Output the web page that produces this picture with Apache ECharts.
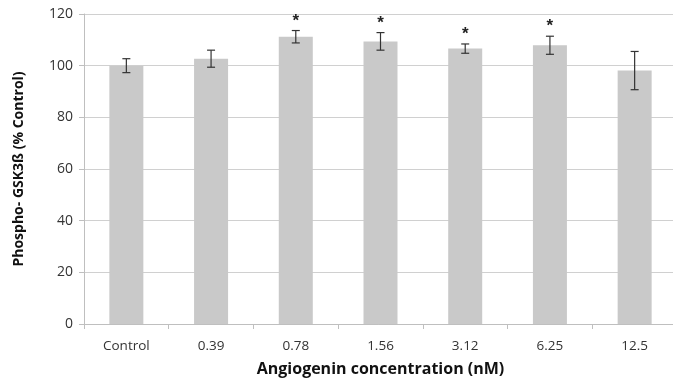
<!DOCTYPE html>
<html><head><meta charset="utf-8">
<script src="https://cdn.jsdelivr.net/npm/echarts@6/dist/echarts.min.js"></script>
<style>html,body{margin:0;padding:0;background:#fff}#c{width:673px;height:381px}</style>
</head><body><div id="c"></div>
<script>
const categories = ['Control','0.39','0.78','1.56','3.12','6.25','12.5'];
const values = [100, 102.7, 111.2, 109.4, 106.6, 107.9, 98.1];
const errors = [2.7, 3.3, 2.4, 3.4, 1.8, 3.5, 7.4];
const significant = [false, false, true, true, true, true, false];
const yTicks = [0, 20, 40, 60, 80, 100, 120];

const font = '"Open Sans", "Liberation Sans", sans-serif';
const chart = echarts.init(document.getElementById('c'));
const errData = values.map((v, i) => [i, v - errors[i], v + errors[i], significant[i] ? 1 : 0]);

chart.setOption({
  animation: false,
  grid: { left: 84, right: -4, top: 14, bottom: 57, containLabel: false, outerBoundsMode: 'none' },
  xAxis: {
    type: 'category', data: categories,
    name: 'Angiogenin concentration (nM)', nameLocation: 'middle', nameGap: 37,
    nameTextStyle: { fontFamily: font, fontSize: 16, fontWeight: 'bold', color: '#111' },
    axisLine: { lineStyle: { color: '#bfbfbf' } },
    axisTick: { show: true, length: 5, lineStyle: { color: '#bfbfbf' } },
    axisLabel: { fontFamily: font, fontSize: 13.5, color: '#333', margin: 15 }
  },
  yAxis: {
    type: 'value', min: yTicks[0], max: yTicks[yTicks.length - 1], interval: 20,
    name: 'Phospho- GSK3ß (% Control)', nameLocation: 'middle', nameGap: 58,
    nameTextStyle: { fontFamily: font, fontSize: 14, fontWeight: 'bold', color: '#111' },
    axisLine: { show: true, lineStyle: { color: '#bfbfbf' } },
    axisTick: { show: true, length: 5, lineStyle: { color: '#bfbfbf' } },
    axisLabel: { fontFamily: font, fontSize: 14, color: '#333', margin: 11 },
    splitLine: { lineStyle: { color: '#d0d0d0', width: 1 } }
  },
  series: [
    { type: 'bar', data: values, barWidth: 34, itemStyle: { color: '#c9c9c9' } },
    {
      type: 'custom', data: errData, z: 10,
      renderItem: function (params, api) {
        const x = api.value(0);
        const lo = api.coord([x, api.value(1)]);
        const hi = api.coord([x, api.value(2)]);
        const cap = 4;
        const st = { stroke: '#333', lineWidth: 1.2 };
        const children = [
          { type: 'line', shape: { x1: lo[0], y1: lo[1], x2: hi[0], y2: hi[1] }, style: st },
          { type: 'line', shape: { x1: lo[0] - cap, y1: lo[1], x2: lo[0] + cap, y2: lo[1] }, style: st },
          { type: 'line', shape: { x1: hi[0] - cap, y1: hi[1], x2: hi[0] + cap, y2: hi[1] }, style: st }
        ];
        if (api.value(3) === 1) {
          children.push({ type: 'text', style: { text: '*', x: hi[0], y: hi[1] - 1, textAlign: 'center', textVerticalAlign: 'bottom', font: 'bold 17px "Liberation Sans", sans-serif', fill: '#222' } });
        }
        return { type: 'group', children: children };
      }
    }
  ]
});
</script></body></html>
